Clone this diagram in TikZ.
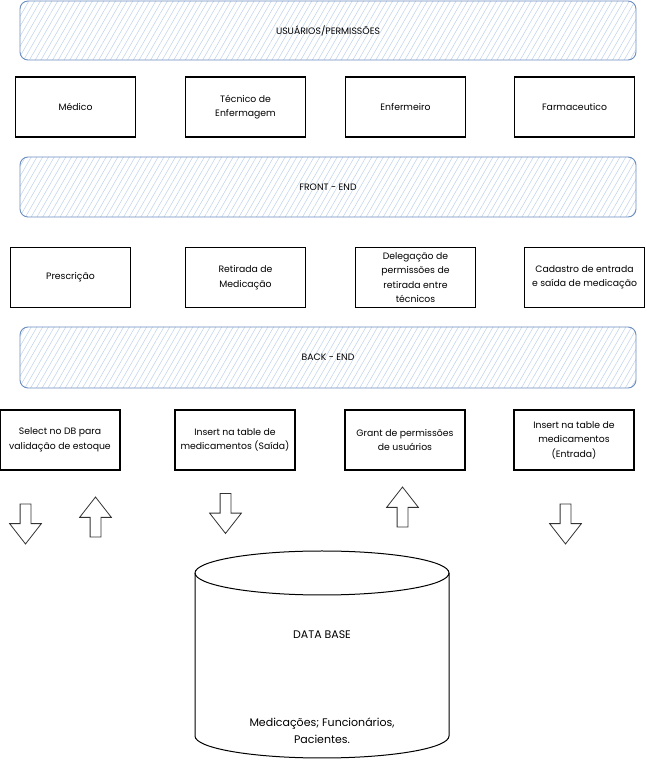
\documentclass[tikz,border=0pt]{standalone}
\usepackage{fontspec}
\setmainfont{Poppins}
\usepackage{xcolor}
\usepackage{tikz}
\usetikzlibrary{shapes,arrows,positioning,patterns.meta}

\definecolor{bannerline}{RGB}{108,142,191}
\definecolor{hatch}{RGB}{190,209,236}

\begin{document}
\begin{tikzpicture}[
    x=1pt, y=1pt,
    font=\fontsize{9.3}{14.5}\selectfont,
    banner/.style={rectangle, draw=bannerline, line width=0.9pt, rounded corners=8pt, minimum width=616pt, minimum height=59pt, outer sep=0pt, pattern={Lines[angle=60,distance=5pt,line width=0.5pt]}, pattern color=hatch},
    box/.style={rectangle, draw, line width=1.2pt, minimum width=120pt, minimum height=60pt, align=center, inner sep=1pt, outer sep=0pt},
    blockarrow/.style={single arrow, draw=black!80, line width=0.8pt, minimum height=40pt, minimum width=31pt, single arrow head extend=10.5pt, single arrow tip angle=76, inner xsep=5pt, inner ysep=5pt},
    dbtext/.style={align=center, font=\fontsize{11}{17}\selectfont}
]

\fill[white] (0,0) rectangle (646,761);
\useasboundingbox (0,0) rectangle (646,761);

% Users / permissions
\node (users) [banner] at (328,730.5) {USUÁRIOS/PERMISSÕES};

% Roles
\node (medico) [box] at (75.5,654) {Médico};
\node (tecnico) [box, right=50pt of medico] {Técnico de\\Enfermagem};
\node (enfermeiro) [box, right=40pt of tecnico] {Enfermeiro};
\node (farmaceutico) [box, right=49pt of enfermeiro] {Farmaceutico};

% Front end
\node (front) [banner, minimum height=60pt] at (328,574) {FRONT - END};

% Functions
\node (prescricao) [box] at (70.5,483.5) {Prescrição};
\node (retirada) [box, right=55pt of prescricao] {Retirada de\\Medicação};
\node (delegacao) [box, right=50pt of retirada] {Delegação de\\permissões de\\retirada entre\\técnicos};
\node (cadastro) [box, right=49pt of delegacao] {Cadastro de entrada\\e saída de medicação};

% Back end
\node (back) [banner, minimum height=61pt] at (328,403.5) {BACK - END};

% Queries
\node (select) [box] at (60,321) {Select no DB para\\validação de estoque};
\node (saida) [box, right=55pt of select] {Insert na table de\\medicamentos (Saída)};
\node (grant) [box, right=50pt of saida] {Grant de permissões\\de usuários};
\node (entrada) [box, right=49pt of grant] {Insert na table de\\medicamentos\\(Entrada)};

% Data flow
\node (selq) [blockarrow, shape border rotate=270] at (25.5,240.5) {};
\node (selr) [blockarrow, shape border rotate=90] at (95.5,240.5) {};
\node (saidaq) [blockarrow, shape border rotate=270] at (225.5,251) {};
\node (grantr) [blockarrow, shape border rotate=90] at (402.5,250.5) {};
\node (entradaq) [blockarrow, shape border rotate=270] at (565.5,240.5) {};

% Data base
\coordinate (dbtop) at (322,188);
\draw [line width=1pt] ([xshift=-127pt]dbtop) -- ++(0,-163) arc[start angle=180, end angle=360, x radius=127, y radius=22] -- ([xshift=127pt]dbtop) arc[start angle=0, end angle=180, x radius=127, y radius=22] -- cycle;
\draw [line width=1pt] ([xshift=-127pt]dbtop) arc[start angle=180, end angle=360, x radius=127, y radius=22];
\node (dbname) [dbtext] at (322,126) {DATA BASE};
\node (dbtables) [dbtext] at (322,30) {Medicações; Funcionários,\\Pacientes.};

\end{tikzpicture}
\end{document}
